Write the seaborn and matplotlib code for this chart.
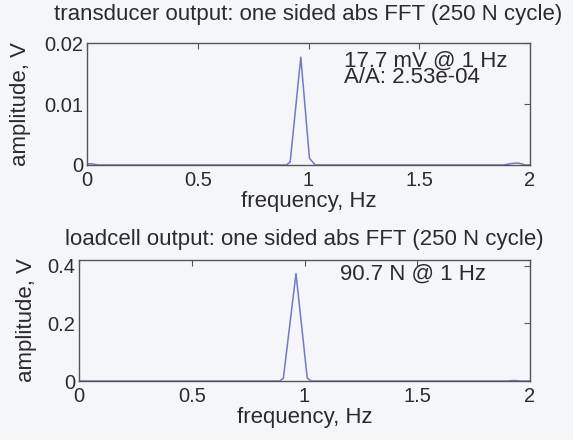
import numpy as np
import pandas as pd
import matplotlib
matplotlib.use("Agg")
import matplotlib.pyplot as plt
import seaborn as sns

# 数据
freq_tx = [0, 0.02, 0.05, 0.90, 0.917, 0.965, 1.004, 1.03, 1.88, 1.91, 1.93, 1.95, 1.98, 2.0]
amp_tx = [0.0002, 0.0002, 0, 0, 0.0005, 0.0177, 0.0011, 0, 0, 0.0002, 0.0003, 0.0003, 0, 0]

freq_lc = [0, 0.89, 0.906, 0.962, 1.012, 1.03, 1.90, 1.93, 1.96, 2.0]
amp_lc = [0, 0, 0.01, 0.373, 0.01, 0, 0, 0.002, 0, 0]

xticks = [0, 0.5, 1, 1.5, 2]
xtick_labels = ["0", "0.5", "1", "1.5", "2"]
yticks_tx = [0, 0.01, 0.02]
ytick_labels_tx = ["0", "0.01", "0.02"]
yticks_lc = [0, 0.2, 0.4]
ytick_labels_lc = ["0", "0.2", "0.4"]

titles = ["transducer output: one sided abs FFT (250 N cycle)",
          "loadcell output: one sided abs FFT (250 N cycle)"]

sns.set_style("white")
plt.rcParams['font.family'] = ['Liberation Sans', 'DejaVu Sans']

bg = '#f5f6f9'
txt = '#2b2b2b'
line_c = '#7279c6'
fs_tick = 14.5
fs_lab = 16

fig = plt.figure(figsize=(5.73, 4.40), dpi=100, facecolor=bg)
ax1 = fig.add_axes([0.152, 0.625, 0.773, 0.277])
ax2 = fig.add_axes([0.138, 0.134, 0.787, 0.275])

df_tx = pd.DataFrame({'freq': freq_tx, 'amp': amp_tx})
df_lc = pd.DataFrame({'freq': freq_lc, 'amp': amp_lc})

sns.lineplot(data=df_tx, x='freq', y='amp', ax=ax1, color=line_c, lw=1.1)
sns.lineplot(data=df_lc, x='freq', y='amp', ax=ax2, color=line_c, lw=1.1)

# (轴, y刻度, y刻度标签, y范围, 标题, 标题间距, ylabel位置)
setups = [
    (ax1, yticks_tx, ytick_labels_tx, (0, 0.02), titles[0], 17, -0.126),
    (ax2, yticks_lc, ytick_labels_lc, (0, 0.42), titles[1], 11, -0.094),
]
for ax, yt, ytl, ylim, title, tpad, ylx in setups:
    ax.set_facecolor(bg)
    ax.set_xlim(0, 2)
    ax.set_ylim(*ylim)
    ax.set_xticks(xticks)
    ax.set_xticklabels(xtick_labels)
    ax.set_yticks(yt)
    ax.set_yticklabels(ytl)
    ax.tick_params(direction='in', top=True, right=True, length=4,
                   color='#555555', labelcolor=txt, labelsize=fs_tick)
    ax.tick_params(axis='x', pad=4)
    ax.tick_params(axis='y', pad=3)
    for s in ax.spines.values():
        s.set_color('#555555')
        s.set_linewidth(1)
    ax.set_xlabel('frequency, Hz', color=txt, fontsize=fs_lab, labelpad=1)
    ax.set_ylabel('amplitude, V', color=txt, fontsize=fs_lab)
    ax.yaxis.set_label_coords(ylx, 0.5)
    ax.set_title(title, color=txt, fontsize=fs_lab, pad=tpad)

ax1.text(1.16, 0.0171, '17.7 mV @ 1 Hz', color=txt, fontsize=fs_lab, va='center')
ax1.text(1.16, 0.0143, 'A/A: 2.53e-04', color=txt, fontsize=fs_lab, va='center')
ax2.text(1.157, 0.372, '90.7 N @ 1 Hz', color=txt, fontsize=fs_lab, va='center')

fig.savefig('out.png', dpi=100, facecolor=bg)
